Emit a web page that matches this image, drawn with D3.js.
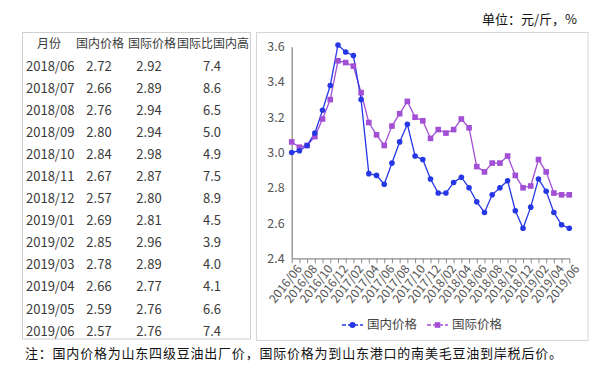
<!DOCTYPE html>
<html><head><meta charset="utf-8">
<script src="https://cdn.jsdelivr.net/npm/d3@7"></script>
<style>body{margin:0;background:#fff;} svg{display:block;}</style>
</head><body>
<script>
const months = ["2016/06","2016/07","2016/08","2016/09","2016/10","2016/11","2016/12","2017/01","2017/02","2017/03","2017/04","2017/05","2017/06","2017/07","2017/08","2017/09","2017/10","2017/11","2017/12","2018/01","2018/02","2018/03","2018/04","2018/05","2018/06","2018/07","2018/08","2018/09","2018/10","2018/11","2018/12","2019/01","2019/02","2019/03","2019/04","2019/05","2019/06"];
const domestic = [3.00,3.01,3.04,3.11,3.24,3.38,3.61,3.57,3.55,3.30,2.88,2.87,2.82,2.94,3.06,3.16,2.98,2.96,2.85,2.77,2.77,2.83,2.86,2.80,2.72,2.66,2.76,2.80,2.84,2.67,2.57,2.69,2.85,2.78,2.66,2.59,2.57];
const international = [3.06,3.03,3.04,3.09,3.19,3.30,3.52,3.51,3.49,3.34,3.17,3.10,3.04,3.15,3.22,3.29,3.20,3.18,3.08,3.13,3.11,3.13,3.19,3.14,2.92,2.89,2.94,2.94,2.98,2.87,2.80,2.81,2.96,2.89,2.77,2.76,2.76];
const yTicks = [2.4,2.6,2.8,3.0,3.2,3.4,3.6];
const seriesNames = ["国内价格","国际价格"];
const tableHeader = ["月份","国内价格","国际价格","国际比国内高"];
const tableMonths = ["2018/06","2018/07","2018/08","2018/09","2018/10","2018/11","2018/12","2019/01","2019/02","2019/03","2019/04","2019/05","2019/06"];
const tableDomestic = ["2.72","2.66","2.76","2.80","2.84","2.67","2.57","2.69","2.85","2.78","2.66","2.59","2.57"];
const tableIntl = ["2.92","2.89","2.94","2.94","2.98","2.87","2.80","2.81","2.96","2.89","2.77","2.76","2.76"];
const tableRatio = ["7.4","8.6","6.5","5.0","4.9","7.5","8.9","4.5","3.9","4.0","4.1","6.6","7.4"];
const unitText = "单位：元/斤，%";
const noteText = "注：国内价格为山东四级豆油出厂价，国际价格为到山东港口的南美毛豆油到岸税后价。";

const W = 605, H = 369;
const FONT = "'Noto Sans CJK SC','Noto Sans',sans-serif";
const BLUE = "#2638e6", PURPLE = "#a24fd6";
const svg = d3.select("body").append("svg").attr("width", W).attr("height", H)
  .style("font-family", FONT);

// unit
svg.append("text").attr("x", 577).attr("y", 24).attr("text-anchor", "end")
  .attr("font-size", 13).attr("fill", "#111").text(unitText);

// table box
svg.append("rect").attr("x", 22.5).attr("y", 32.5).attr("width", 228).attr("height", 306.5)
  .attr("fill", "none").attr("stroke", "#cfcfcf");
const rowY = i => 44 + 22.08 * i;
const tg = svg.append("g").attr("fill", "#3a3a3a").attr("font-size", 12);
const hdrX = [49, 100, 152, 213];
tableHeader.forEach((h, j) => {
  tg.append("text").attr("x", hdrX[j]).attr("y", rowY(0)).attr("dy", "0.35em")
    .attr("text-anchor", "middle").text(h);
});
tableMonths.forEach((m, i) => {
  const y = rowY(i + 1);
  tg.append("text").attr("x", 26).attr("y", y).attr("dy", "0.35em").attr("font-size", 13).text(m);
  tg.append("text").attr("x", 99).attr("y", y).attr("dy", "0.35em").attr("font-size", 13).attr("text-anchor", "middle").text(tableDomestic[i]);
  tg.append("text").attr("x", 149).attr("y", y).attr("dy", "0.35em").attr("font-size", 13).attr("text-anchor", "middle").text(tableIntl[i]);
  tg.append("text").attr("x", 212).attr("y", y).attr("dy", "0.35em").attr("font-size", 13).attr("text-anchor", "middle").text(tableRatio[i]);
});

// chart box
svg.append("rect").attr("x", 256.5).attr("y", 32.5).attr("width", 331.5).attr("height", 308)
  .attr("fill", "#fff").attr("stroke", "#d6d6d6");

const x = d3.scalePoint().domain(months).range([291.7, 569.3]);
const y = d3.scaleLinear().domain([2.4, 3.6]).range([258.3, 46.7]);

// y axis
const ya = svg.append("g").attr("transform", "translate(291.7,0)")
  .call(d3.axisLeft(y).tickValues(yTicks).tickFormat(d3.format(".1f")).tickSize(0).tickPadding(7));
ya.select(".domain").attr("stroke", "#8c8c8c").attr("stroke-width", 1.3);
ya.selectAll("text").attr("font-size", 12.5).attr("fill", "#555").style("font-family", FONT);

// x axis
const xa = svg.append("g").attr("transform", "translate(0,258.3)")
  .call(d3.axisBottom(x).tickSize(5).tickSizeOuter(0)
    .tickFormat((d, i) => i % 2 === 0 ? d : ""));
xa.select(".domain").attr("stroke", "#8c8c8c").attr("stroke-width", 1.3);
xa.selectAll(".tick line").attr("stroke", "#8c8c8c");
xa.selectAll("text").attr("font-size", 12).attr("fill", "#555").style("font-family", FONT)
  .attr("text-anchor", "end").attr("dy", "0.35em")
  .attr("transform", "translate(7,8) rotate(-52)").attr("y", 0).attr("x", 0);

// lines
const line = d3.line().x((d, i) => x(months[i])).y(d => y(d));
svg.append("path").datum(international).attr("d", line).attr("fill", "none")
  .attr("stroke", PURPLE).attr("stroke-width", 1.3);
svg.append("path").datum(domestic).attr("d", line).attr("fill", "none")
  .attr("stroke", BLUE).attr("stroke-width", 1.3);
svg.append("g").selectAll("rect").data(international).join("rect")
  .attr("x", (d, i) => x(months[i]) - 2.8).attr("y", d => y(d) - 2.8)
  .attr("width", 5.6).attr("height", 5.6).attr("fill", PURPLE);
svg.append("g").selectAll("circle").data(domestic).join("circle")
  .attr("cx", (d, i) => x(months[i])).attr("cy", d => y(d)).attr("r", 2.8).attr("fill", BLUE);

// legend
const lg = svg.append("g").attr("font-size", 12.5).attr("fill", "#444");
[[342, BLUE, "circle"], [427, PURPLE, "rect"]].forEach(([lx, c, shape], k) => {
  const ly = 325;
  lg.append("line").attr("x1", lx).attr("x2", lx + 21).attr("y1", ly).attr("y2", ly)
    .attr("stroke", c).attr("stroke-width", 1.3).attr("stroke-dasharray", "4,2");
  if (shape === "circle") lg.append("circle").attr("cx", lx + 10.5).attr("cy", ly).attr("r", 3).attr("fill", c);
  else lg.append("rect").attr("x", lx + 7.7).attr("y", ly - 2.8).attr("width", 5.6).attr("height", 5.6).attr("fill", c);
  lg.append("text").attr("x", lx + 25).attr("y", ly).attr("dy", "0.35em").text(seriesNames[k]);
});

// note
svg.append("text").attr("x", 25).attr("y", 353).attr("dy", "0.35em")
  .attr("font-size", 13).attr("fill", "#111")
  .attr("textLength", 537).attr("lengthAdjust", "spacing").text(noteText);
</script>
</body></html>
